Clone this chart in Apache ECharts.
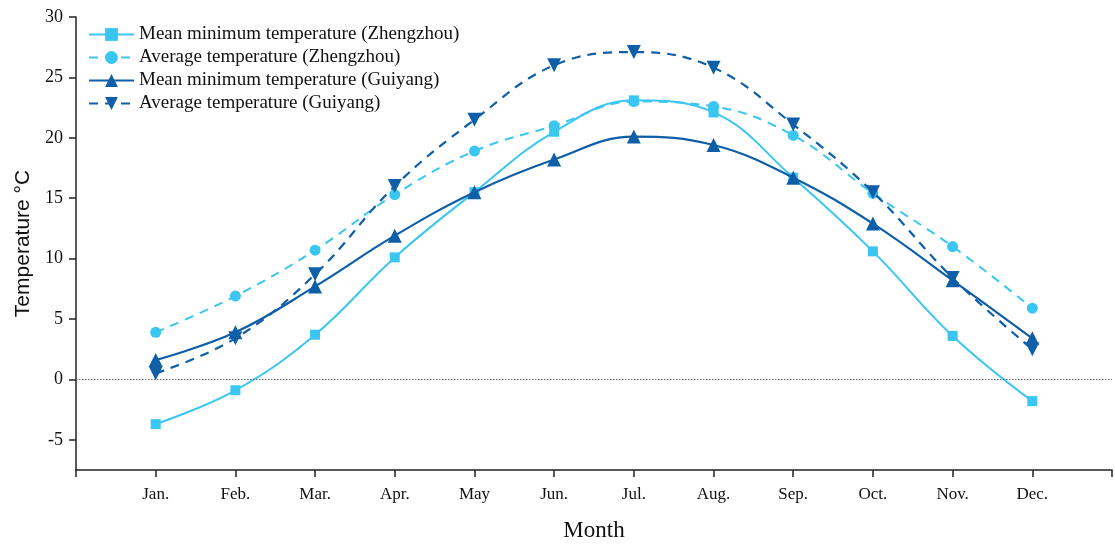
<!DOCTYPE html>
<html>
<head>
<meta charset="utf-8">
<script src="https://cdn.jsdelivr.net/npm/echarts@6/dist/echarts.min.js"></script>
<style>html,body{margin:0;padding:0;background:#fff;}#c{width:1115px;height:547px;}</style>
</head>
<body>
<div id="c"></div>
<script>
var months = ['Jan.', 'Feb.', 'Mar.', 'Apr.', 'May', 'Jun.', 'Jul.', 'Aug.', 'Sep.', 'Oct.', 'Nov.', 'Dec.'];
var zzMin = [-3.7, -0.9, 3.7, 10.1, 15.5, 20.5, 23.1, 22.1, 16.7, 10.6, 3.6, -1.8];
var zzAvg = [3.9, 6.9, 10.7, 15.3, 18.9, 21.0, 23.0, 22.6, 20.2, 15.4, 11.0, 5.9];
var gyMin = [1.6, 3.9, 7.7, 11.9, 15.5, 18.2, 20.1, 19.4, 16.7, 12.9, 8.2, 3.4];
var gyAvg = [0.5, 3.4, 8.7, 16.0, 21.5, 26.0, 27.1, 25.8, 21.1, 15.5, 8.4, 2.5];
var yTicks = [-5, 0, 5, 10, 15, 20, 25, 30];
var seriesNames = ['Mean minimum temperature (Zhengzhou)', 'Average temperature (Zhengzhou)', 'Mean minimum temperature (Guiyang)', 'Average temperature (Guiyang)'];

var cats = [''].concat(months).concat(['']);
function pairs(arr) { return arr.map(function (v, i) { return [months[i], v]; }); }
var light = '#3ac6f2', dark = '#0e5fa7';
var font = '"Liberation Serif", "Times New Roman", serif';

var chart = echarts.init(document.getElementById('c'));
chart.setOption({
  animation: false,
  backgroundColor: '#fff',
  textStyle: { fontFamily: font },
  grid: { left: 76, right: -5, top: 17, bottom: 73 },
  legend: {
    orient: 'vertical', left: 88, top: 25, padding: 0, itemWidth: 45, itemHeight: 16, itemGap: 4,
    textStyle: { fontFamily: font, fontSize: 19, color: '#111' },
    data: seriesNames
  },
  xAxis: {
    type: 'category', data: cats, boundaryGap: false,
    name: 'Month', nameLocation: 'middle', nameGap: 49,
    nameTextStyle: { fontFamily: font, fontSize: 23, color: '#111' },
    axisLine: { onZero: false, lineStyle: { color: '#222', width: 1.5 } },
    axisTick: { show: true, interval: 0, length: 7, lineStyle: { color: '#222', width: 1.5 } },
    axisLabel: { interval: 0, fontFamily: font, fontSize: 17, color: '#111', margin: 16 },
    splitLine: { show: false }
  },
  yAxis: {
    type: 'value', min: -7.5, max: 30,
    name: 'Temperature \u00B0C', nameLocation: 'middle', nameGap: 41, nameRotate: 90,
    nameTextStyle: { fontFamily: '"Liberation Sans", Arial, sans-serif', fontSize: 21, color: '#111' },
    axisLine: { show: true, lineStyle: { color: '#222', width: 1.5 } },
    axisTick: { show: true, length: 7, customValues: yTicks, lineStyle: { color: '#222', width: 1.5 } },
    axisLabel: { customValues: yTicks, fontFamily: font, fontSize: 18, color: '#111', margin: 13 },
    splitLine: { show: false }
  },
  series: [
    {
      name: seriesNames[0], type: 'line', smooth: 0.4, data: pairs(zzMin),
      symbol: 'rect', symbolSize: 10, color: light,
      lineStyle: { color: light, width: 2, type: 'solid' }, itemStyle: { color: light },
      markLine: {
        silent: true, symbol: ['none', 'none'], label: { show: false },
        lineStyle: { color: '#666', width: 1, type: [1.5, 1.5] },
        data: [{ yAxis: 0 }]
      }, z: 3
    },
    {
      name: seriesNames[1], type: 'line', smooth: 0.4, data: pairs(zzAvg),
      symbol: 'circle', symbolSize: 11, color: light,
      lineStyle: { color: light, width: 2, type: [9, 7] }, itemStyle: { color: light }, z: 3
    },
    {
      name: seriesNames[2], type: 'line', smooth: 0.4, data: pairs(gyMin),
      symbol: 'triangle', symbolSize: 14, color: dark,
      lineStyle: { color: dark, width: 2.2, type: 'solid' }, itemStyle: { color: dark }, z: 4
    },
    {
      name: seriesNames[3], type: 'line', smooth: 0.4, data: pairs(gyAvg),
      symbol: 'triangle', symbolRotate: 180, symbolSize: 14, color: dark,
      lineStyle: { color: dark, width: 2.2, type: [9, 7] }, itemStyle: { color: dark }, z: 4
    }
  ]
});
</script>
</body>
</html>
